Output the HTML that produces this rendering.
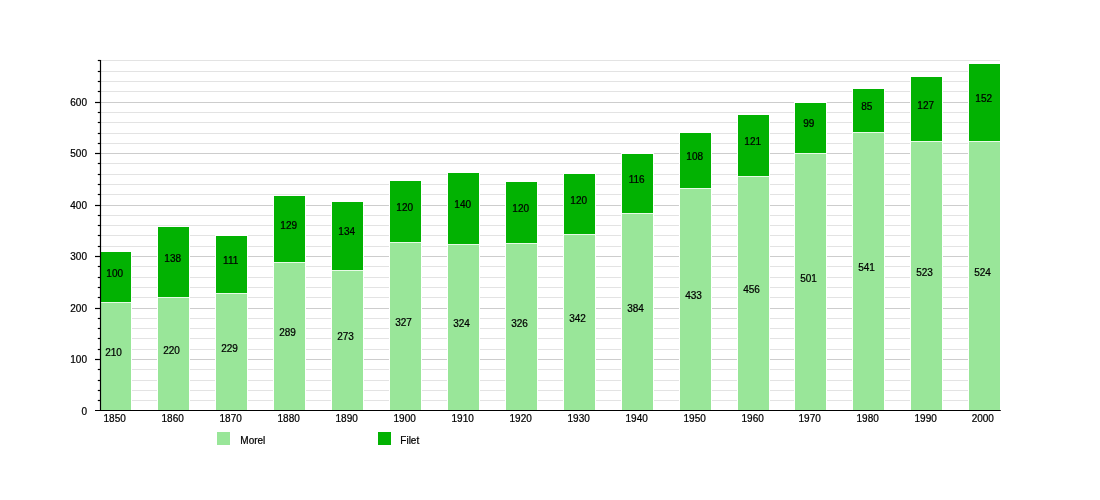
<!DOCTYPE html><html lang="en"><head><meta charset="utf-8"><title>Morel / Filet population chart</title><style>html,body{margin:0;padding:0;background:#fff}svg{display:block;will-change:transform}text{font-family:"Liberation Sans",sans-serif;font-size:10px;fill:#000;stroke:#000;stroke-width:0.22px}</style></head><body>
<svg width="1100" height="500" viewBox="0 0 1100 500">
<rect width="1100" height="500" fill="#fff"/>
<line x1="100.50" y1="400.50" x2="1000" y2="400.50" stroke="#e3e3e3" stroke-width="1"/>
<line x1="100.50" y1="390.50" x2="1000" y2="390.50" stroke="#e3e3e3" stroke-width="1"/>
<line x1="100.50" y1="380.50" x2="1000" y2="380.50" stroke="#e3e3e3" stroke-width="1"/>
<line x1="100.50" y1="369.50" x2="1000" y2="369.50" stroke="#e3e3e3" stroke-width="1"/>
<line x1="100.50" y1="359.50" x2="1000" y2="359.50" stroke="#cdcdcd" stroke-width="1"/>
<line x1="100.50" y1="349.50" x2="1000" y2="349.50" stroke="#e3e3e3" stroke-width="1"/>
<line x1="100.50" y1="338.50" x2="1000" y2="338.50" stroke="#e3e3e3" stroke-width="1"/>
<line x1="100.50" y1="328.50" x2="1000" y2="328.50" stroke="#e3e3e3" stroke-width="1"/>
<line x1="100.50" y1="318.50" x2="1000" y2="318.50" stroke="#e3e3e3" stroke-width="1"/>
<line x1="100.50" y1="308.50" x2="1000" y2="308.50" stroke="#cdcdcd" stroke-width="1"/>
<line x1="100.50" y1="297.50" x2="1000" y2="297.50" stroke="#e3e3e3" stroke-width="1"/>
<line x1="100.50" y1="287.50" x2="1000" y2="287.50" stroke="#e3e3e3" stroke-width="1"/>
<line x1="100.50" y1="277.50" x2="1000" y2="277.50" stroke="#e3e3e3" stroke-width="1"/>
<line x1="100.50" y1="266.50" x2="1000" y2="266.50" stroke="#e3e3e3" stroke-width="1"/>
<line x1="100.50" y1="256.50" x2="1000" y2="256.50" stroke="#cdcdcd" stroke-width="1"/>
<line x1="100.50" y1="246.50" x2="1000" y2="246.50" stroke="#e3e3e3" stroke-width="1"/>
<line x1="100.50" y1="235.50" x2="1000" y2="235.50" stroke="#e3e3e3" stroke-width="1"/>
<line x1="100.50" y1="225.50" x2="1000" y2="225.50" stroke="#e3e3e3" stroke-width="1"/>
<line x1="100.50" y1="215.50" x2="1000" y2="215.50" stroke="#e3e3e3" stroke-width="1"/>
<line x1="100.50" y1="205.50" x2="1000" y2="205.50" stroke="#cdcdcd" stroke-width="1"/>
<line x1="100.50" y1="194.50" x2="1000" y2="194.50" stroke="#e3e3e3" stroke-width="1"/>
<line x1="100.50" y1="184.50" x2="1000" y2="184.50" stroke="#e3e3e3" stroke-width="1"/>
<line x1="100.50" y1="174.50" x2="1000" y2="174.50" stroke="#e3e3e3" stroke-width="1"/>
<line x1="100.50" y1="163.50" x2="1000" y2="163.50" stroke="#e3e3e3" stroke-width="1"/>
<line x1="100.50" y1="153.50" x2="1000" y2="153.50" stroke="#cdcdcd" stroke-width="1"/>
<line x1="100.50" y1="143.50" x2="1000" y2="143.50" stroke="#e3e3e3" stroke-width="1"/>
<line x1="100.50" y1="133.50" x2="1000" y2="133.50" stroke="#e3e3e3" stroke-width="1"/>
<line x1="100.50" y1="122.50" x2="1000" y2="122.50" stroke="#e3e3e3" stroke-width="1"/>
<line x1="100.50" y1="112.50" x2="1000" y2="112.50" stroke="#e3e3e3" stroke-width="1"/>
<line x1="100.50" y1="102.50" x2="1000" y2="102.50" stroke="#cdcdcd" stroke-width="1"/>
<line x1="100.50" y1="91.50" x2="1000" y2="91.50" stroke="#e3e3e3" stroke-width="1"/>
<line x1="100.50" y1="81.50" x2="1000" y2="81.50" stroke="#e3e3e3" stroke-width="1"/>
<line x1="100.50" y1="71.50" x2="1000" y2="71.50" stroke="#e3e3e3" stroke-width="1"/>
<line x1="100.50" y1="60.50" x2="1000" y2="60.50" stroke="#e3e3e3" stroke-width="1"/>
<rect x="99" y="251" width="33" height="159" fill="#fff"/>
<rect x="100" y="303" width="31" height="107" fill="#99e699"/>
<rect x="100" y="252" width="31" height="50" fill="#02b202"/>
<rect x="100" y="302" width="31" height="1" fill="#e6fbe6"/>
<text x="113.50" y="356" text-anchor="middle">210</text>
<text x="114.70" y="277" text-anchor="middle">100</text>
<text x="114.70" y="422" text-anchor="middle">1850</text>
<rect x="157" y="226" width="33" height="184" fill="#fff"/>
<rect x="158" y="298" width="31" height="112" fill="#99e699"/>
<rect x="158" y="227" width="31" height="70" fill="#02b202"/>
<rect x="158" y="297" width="31" height="1" fill="#e6fbe6"/>
<text x="171.50" y="354" text-anchor="middle">220</text>
<text x="172.70" y="262" text-anchor="middle">138</text>
<text x="172.70" y="422" text-anchor="middle">1860</text>
<rect x="215" y="235" width="33" height="175" fill="#fff"/>
<rect x="216" y="294" width="31" height="116" fill="#99e699"/>
<rect x="216" y="236" width="31" height="57" fill="#02b202"/>
<rect x="216" y="293" width="31" height="1" fill="#e6fbe6"/>
<text x="229.50" y="352" text-anchor="middle">229</text>
<text x="230.70" y="264" text-anchor="middle">111</text>
<text x="230.70" y="422" text-anchor="middle">1870</text>
<rect x="273" y="195" width="33" height="215" fill="#fff"/>
<rect x="274" y="263" width="31" height="147" fill="#99e699"/>
<rect x="274" y="196" width="31" height="66" fill="#02b202"/>
<rect x="274" y="262" width="31" height="1" fill="#e6fbe6"/>
<text x="287.50" y="336" text-anchor="middle">289</text>
<text x="288.70" y="229" text-anchor="middle">129</text>
<text x="288.70" y="422" text-anchor="middle">1880</text>
<rect x="331" y="201" width="33" height="209" fill="#fff"/>
<rect x="332" y="271" width="31" height="139" fill="#99e699"/>
<rect x="332" y="202" width="31" height="68" fill="#02b202"/>
<rect x="332" y="270" width="31" height="1" fill="#e6fbe6"/>
<text x="345.50" y="340" text-anchor="middle">273</text>
<text x="346.70" y="235" text-anchor="middle">134</text>
<text x="346.70" y="422" text-anchor="middle">1890</text>
<rect x="389" y="180" width="33" height="230" fill="#fff"/>
<rect x="390" y="243" width="31" height="167" fill="#99e699"/>
<rect x="390" y="181" width="31" height="61" fill="#02b202"/>
<rect x="390" y="242" width="31" height="1" fill="#e6fbe6"/>
<text x="403.50" y="326" text-anchor="middle">327</text>
<text x="404.70" y="211" text-anchor="middle">120</text>
<text x="404.70" y="422" text-anchor="middle">1900</text>
<rect x="447" y="172" width="33" height="238" fill="#fff"/>
<rect x="448" y="245" width="31" height="165" fill="#99e699"/>
<rect x="448" y="173" width="31" height="71" fill="#02b202"/>
<rect x="448" y="244" width="31" height="1" fill="#e6fbe6"/>
<text x="461.50" y="327" text-anchor="middle">324</text>
<text x="462.70" y="208" text-anchor="middle">140</text>
<text x="462.70" y="422" text-anchor="middle">1910</text>
<rect x="505" y="181" width="33" height="229" fill="#fff"/>
<rect x="506" y="244" width="31" height="166" fill="#99e699"/>
<rect x="506" y="182" width="31" height="61" fill="#02b202"/>
<rect x="506" y="243" width="31" height="1" fill="#e6fbe6"/>
<text x="519.50" y="327" text-anchor="middle">326</text>
<text x="520.70" y="212" text-anchor="middle">120</text>
<text x="520.70" y="422" text-anchor="middle">1920</text>
<rect x="563" y="173" width="33" height="237" fill="#fff"/>
<rect x="564" y="235" width="31" height="175" fill="#99e699"/>
<rect x="564" y="174" width="31" height="60" fill="#02b202"/>
<rect x="564" y="234" width="31" height="1" fill="#e6fbe6"/>
<text x="577.50" y="322" text-anchor="middle">342</text>
<text x="578.70" y="204" text-anchor="middle">120</text>
<text x="578.70" y="422" text-anchor="middle">1930</text>
<rect x="621" y="153" width="33" height="257" fill="#fff"/>
<rect x="622" y="214" width="31" height="196" fill="#99e699"/>
<rect x="622" y="154" width="31" height="59" fill="#02b202"/>
<rect x="622" y="213" width="31" height="1" fill="#e6fbe6"/>
<text x="635.50" y="312" text-anchor="middle">384</text>
<text x="636.70" y="183" text-anchor="middle">116</text>
<text x="636.70" y="422" text-anchor="middle">1940</text>
<rect x="679" y="132" width="33" height="278" fill="#fff"/>
<rect x="680" y="189" width="31" height="221" fill="#99e699"/>
<rect x="680" y="133" width="31" height="55" fill="#02b202"/>
<rect x="680" y="188" width="31" height="1" fill="#e6fbe6"/>
<text x="693.50" y="299" text-anchor="middle">433</text>
<text x="694.70" y="160" text-anchor="middle">108</text>
<text x="694.70" y="422" text-anchor="middle">1950</text>
<rect x="737" y="114" width="33" height="296" fill="#fff"/>
<rect x="738" y="177" width="31" height="233" fill="#99e699"/>
<rect x="738" y="115" width="31" height="61" fill="#02b202"/>
<rect x="738" y="176" width="31" height="1" fill="#e6fbe6"/>
<text x="751.50" y="293" text-anchor="middle">456</text>
<text x="752.70" y="145" text-anchor="middle">121</text>
<text x="752.70" y="422" text-anchor="middle">1960</text>
<rect x="794" y="102" width="33" height="308" fill="#fff"/>
<rect x="795" y="154" width="31" height="256" fill="#99e699"/>
<rect x="795" y="103" width="31" height="50" fill="#02b202"/>
<rect x="795" y="153" width="31" height="1" fill="#e6fbe6"/>
<text x="808.50" y="282" text-anchor="middle">501</text>
<text x="808.70" y="127" text-anchor="middle">99</text>
<text x="809.70" y="422" text-anchor="middle">1970</text>
<rect x="852" y="88" width="33" height="322" fill="#fff"/>
<rect x="853" y="133" width="31" height="277" fill="#99e699"/>
<rect x="853" y="89" width="31" height="43" fill="#02b202"/>
<rect x="853" y="132" width="31" height="1" fill="#e6fbe6"/>
<text x="866.50" y="271" text-anchor="middle">541</text>
<text x="866.70" y="110" text-anchor="middle">85</text>
<text x="867.70" y="422" text-anchor="middle">1980</text>
<rect x="910" y="76" width="33" height="334" fill="#fff"/>
<rect x="911" y="142" width="31" height="268" fill="#99e699"/>
<rect x="911" y="77" width="31" height="64" fill="#02b202"/>
<rect x="911" y="141" width="31" height="1" fill="#e6fbe6"/>
<text x="924.50" y="276" text-anchor="middle">523</text>
<text x="925.70" y="109" text-anchor="middle">127</text>
<text x="925.70" y="422" text-anchor="middle">1990</text>
<rect x="968" y="63" width="33" height="347" fill="#fff"/>
<rect x="969" y="142" width="31" height="268" fill="#99e699"/>
<rect x="969" y="64" width="31" height="77" fill="#02b202"/>
<rect x="969" y="141" width="31" height="1" fill="#e6fbe6"/>
<text x="982.50" y="276" text-anchor="middle">524</text>
<text x="983.70" y="102" text-anchor="middle">152</text>
<text x="982.80" y="422" text-anchor="middle">2000</text>
<line x1="100.50" y1="60" x2="100.50" y2="411" stroke="#000" stroke-width="1.2"/>
<line x1="95" y1="410.50" x2="1000.8" y2="410.50" stroke="#000" stroke-width="1.2"/>
<line x1="97.80" y1="400.50" x2="100.50" y2="400.50" stroke="#000" stroke-width="1.2"/>
<line x1="97.80" y1="390.50" x2="100.50" y2="390.50" stroke="#000" stroke-width="1.2"/>
<line x1="97.80" y1="380.50" x2="100.50" y2="380.50" stroke="#000" stroke-width="1.2"/>
<line x1="97.80" y1="369.50" x2="100.50" y2="369.50" stroke="#000" stroke-width="1.2"/>
<line x1="95.00" y1="359.50" x2="100.50" y2="359.50" stroke="#000" stroke-width="1.2"/>
<line x1="97.80" y1="349.50" x2="100.50" y2="349.50" stroke="#000" stroke-width="1.2"/>
<line x1="97.80" y1="338.50" x2="100.50" y2="338.50" stroke="#000" stroke-width="1.2"/>
<line x1="97.80" y1="328.50" x2="100.50" y2="328.50" stroke="#000" stroke-width="1.2"/>
<line x1="97.80" y1="318.50" x2="100.50" y2="318.50" stroke="#000" stroke-width="1.2"/>
<line x1="95.00" y1="308.50" x2="100.50" y2="308.50" stroke="#000" stroke-width="1.2"/>
<line x1="97.80" y1="297.50" x2="100.50" y2="297.50" stroke="#000" stroke-width="1.2"/>
<line x1="97.80" y1="287.50" x2="100.50" y2="287.50" stroke="#000" stroke-width="1.2"/>
<line x1="97.80" y1="277.50" x2="100.50" y2="277.50" stroke="#000" stroke-width="1.2"/>
<line x1="97.80" y1="266.50" x2="100.50" y2="266.50" stroke="#000" stroke-width="1.2"/>
<line x1="95.00" y1="256.50" x2="100.50" y2="256.50" stroke="#000" stroke-width="1.2"/>
<line x1="97.80" y1="246.50" x2="100.50" y2="246.50" stroke="#000" stroke-width="1.2"/>
<line x1="97.80" y1="235.50" x2="100.50" y2="235.50" stroke="#000" stroke-width="1.2"/>
<line x1="97.80" y1="225.50" x2="100.50" y2="225.50" stroke="#000" stroke-width="1.2"/>
<line x1="97.80" y1="215.50" x2="100.50" y2="215.50" stroke="#000" stroke-width="1.2"/>
<line x1="95.00" y1="205.50" x2="100.50" y2="205.50" stroke="#000" stroke-width="1.2"/>
<line x1="97.80" y1="194.50" x2="100.50" y2="194.50" stroke="#000" stroke-width="1.2"/>
<line x1="97.80" y1="184.50" x2="100.50" y2="184.50" stroke="#000" stroke-width="1.2"/>
<line x1="97.80" y1="174.50" x2="100.50" y2="174.50" stroke="#000" stroke-width="1.2"/>
<line x1="97.80" y1="163.50" x2="100.50" y2="163.50" stroke="#000" stroke-width="1.2"/>
<line x1="95.00" y1="153.50" x2="100.50" y2="153.50" stroke="#000" stroke-width="1.2"/>
<line x1="97.80" y1="143.50" x2="100.50" y2="143.50" stroke="#000" stroke-width="1.2"/>
<line x1="97.80" y1="133.50" x2="100.50" y2="133.50" stroke="#000" stroke-width="1.2"/>
<line x1="97.80" y1="122.50" x2="100.50" y2="122.50" stroke="#000" stroke-width="1.2"/>
<line x1="97.80" y1="112.50" x2="100.50" y2="112.50" stroke="#000" stroke-width="1.2"/>
<line x1="95.00" y1="102.50" x2="100.50" y2="102.50" stroke="#000" stroke-width="1.2"/>
<line x1="97.80" y1="91.50" x2="100.50" y2="91.50" stroke="#000" stroke-width="1.2"/>
<line x1="97.80" y1="81.50" x2="100.50" y2="81.50" stroke="#000" stroke-width="1.2"/>
<line x1="97.80" y1="71.50" x2="100.50" y2="71.50" stroke="#000" stroke-width="1.2"/>
<line x1="97.80" y1="60.50" x2="100.50" y2="60.50" stroke="#000" stroke-width="1.2"/>
<text x="87" y="414.70" text-anchor="end">0</text>
<text x="87" y="363.23" text-anchor="end">100</text>
<text x="87" y="311.76" text-anchor="end">200</text>
<text x="87" y="260.29" text-anchor="end">300</text>
<text x="87" y="208.82" text-anchor="end">400</text>
<text x="87" y="157.35" text-anchor="end">500</text>
<text x="87" y="105.88" text-anchor="end">600</text>
<rect x="217" y="432" width="13" height="13" fill="#99e699"/>
<text x="240.3" y="444">Morel</text>
<rect x="378" y="432" width="13" height="13" fill="#02b202"/>
<text x="400.3" y="444">Filet</text>
</svg></body></html>
